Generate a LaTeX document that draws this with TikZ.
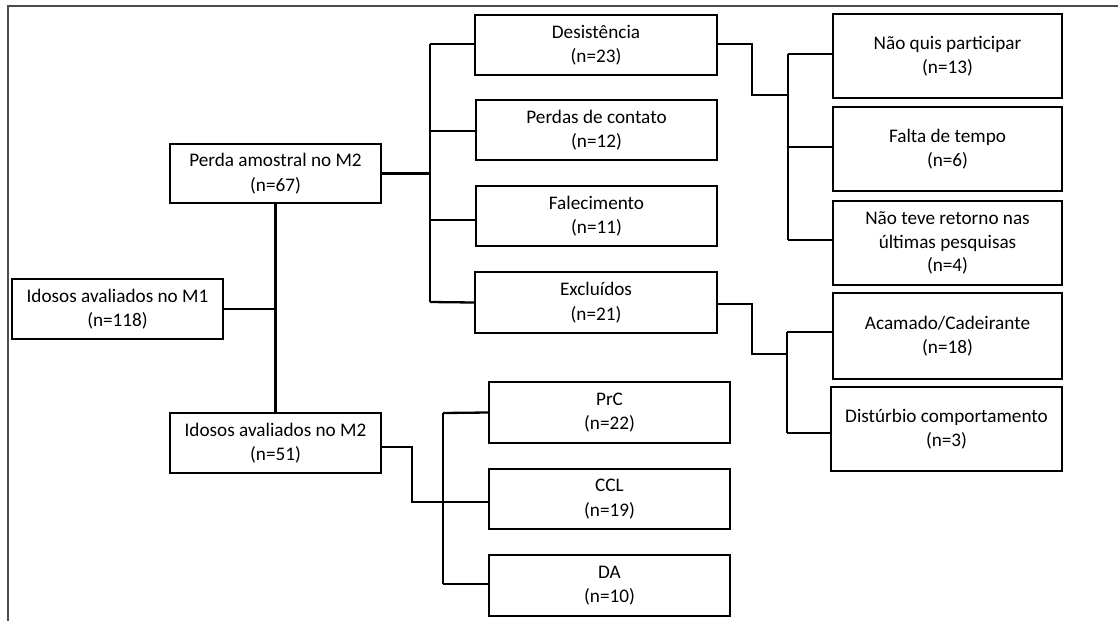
\documentclass[tikz,border=0pt]{standalone}
\usepackage{fontspec}
\setmainfont{Carlito}
\begin{document}
\begin{tikzpicture}[x=1pt,y=-1pt,
  bx/.style={draw=black, line width=2.3pt, rectangle, align=center, inner sep=0pt,
    font=\fontsize{19.2}{24.5}\selectfont},
  ln/.style={draw=black, line width=2.3pt}]
\useasboundingbox (0,0) rectangle (1118,621);
\draw[black!70, line width=2pt] (8,621) -- (8,6) -- (1118,6);

\node[bx, minimum width=211pt, minimum height=60pt] (m1) at (117.5,309) {Idosos avaliados no M1\\(n=118)};
\node[bx, minimum width=211pt, minimum height=59pt] (perda) at (275.5,173.5) {Perda amostral no M2\\(n=67)};
\node[bx, minimum width=211pt, minimum height=60pt] (m2) at (275.5,443) {Idosos avaliados no M2\\(n=51)};

\node[bx, minimum width=242pt, minimum height=60pt] (des) at (596,45) {Desistência\\(n=23)};
\node[bx, minimum width=241pt, minimum height=60pt] (per) at (596.5,130) {Perdas de contato\\(n=12)};
\node[bx, minimum width=241pt, minimum height=60pt] (fal) at (596.5,216) {Falecimento\\(n=11)};
\node[bx, minimum width=242pt, minimum height=61pt] (exc) at (596,302.5) {Excluídos\\(n=21)};

\node[bx, minimum width=241pt, minimum height=61pt] (prc) at (609.5,412.5) {PrC\\(n=22)};
\node[bx, minimum width=241pt, minimum height=60pt] (ccl) at (609.5,499) {CCL\\(n=19)};
\node[bx, minimum width=241pt, minimum height=61pt] (da) at (609.5,585.5) {DA\\(n=10)};

\node[bx, minimum width=229pt, minimum height=84pt] (nq) at (947.5,56) {Não quis participar\\(n=13)};
\node[bx, minimum width=229pt, minimum height=84pt] (ft) at (947.5,149) {Falta de tempo\\(n=6)};
\node[bx, minimum width=229pt, minimum height=84pt, font=\fontsize{19.2}{23.5}\selectfont] (nt) at (947.5,243) {Não teve retorno nas\\últimas pesquisas\\(n=4)};
\node[bx, minimum width=229pt, minimum height=86pt] (ac) at (947.5,336) {Acamado/Cadeirante\\(n=18)};
\node[bx, minimum width=231pt, minimum height=84pt] (di) at (946.5,429) {Distúrbio comportamento\\(n=3)};

% main trunk
\draw[ln] (perda.south) -- (m2.north);
\draw[ln] (m1.east) -- (m1.east -| perda.south);

% losses bus
\coordinate (b1) at (430,173.5);
\draw[ln] (perda.east) -- (b1);
\draw[ln] (430,44) -- (430,302);
\draw[ln] (430,44) -- ([yshift=1pt]des.west);
\draw[ln] (430,131) -- ([yshift=-1pt]per.west);
\draw[ln] (430,220) -- ([yshift=-4pt]fal.west);
\draw[ln] (430,302) -- (exc.west);

% desistencia bus
\coordinate (d1) at (752,44);
\coordinate (d2) at (752,95);
\coordinate (d3) at (788,95);
\draw[ln] ([yshift=1pt]des.east) -- (d1) -- (d2) -- (d3);
\draw[ln] (788,54) -- (788,240);
\draw[ln] (788,54) -- ([yshift=2pt]nq.west);
\draw[ln] (788,147) -- ([yshift=2pt]ft.west);
\draw[ln] (788,240) -- ([yshift=3pt]nt.west);

% excluidos bus
\coordinate (e1) at (752,304);
\coordinate (e2) at (752,354);
\coordinate (e3) at (787,354);
\draw[ln] ([yshift=-1.5pt]exc.east) -- (e1) -- (e2) -- (e3);
\draw[ln] (787,332) -- (787,433);
\draw[ln] (787,332) -- ([yshift=4pt]ac.west);
\draw[ln] (787,433) -- ([yshift=-4pt]di.west);

% m2 bus
\coordinate (f1) at (412,447);
\coordinate (f2) at (412,502);
\coordinate (f3) at (443,502);
\draw[ln] ([yshift=-4pt]m2.east) -- (f1) -- (f2) -- (f3);
\draw[ln] (443,413) -- (443,584);
\draw[ln] (443,413) -- (prc.west);
\draw[ln] (443,502) -- ([yshift=-3pt]ccl.west);
\draw[ln] (443,584) -- ([yshift=1.5pt]da.west);
\end{tikzpicture}
\end{document}
